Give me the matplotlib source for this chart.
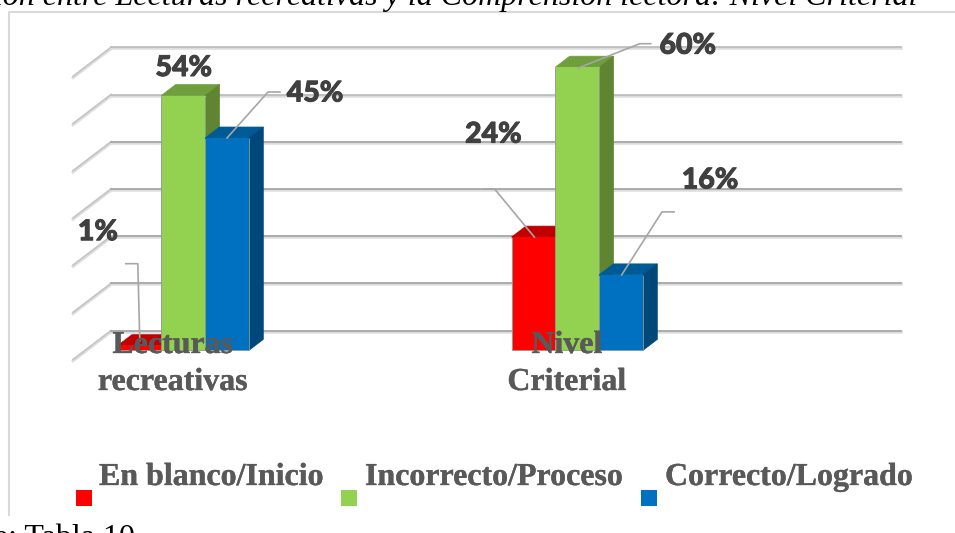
import matplotlib
matplotlib.use("Agg")
import matplotlib.pyplot as plt
import matplotlib.patheffects as pe
from matplotlib.lines import Line2D
from matplotlib.patches import Polygon, Rectangle
from matplotlib.transforms import Affine2D

# --- Data ---
categories = ["Lecturas\nrecreativas", "Nivel\nCriterial"]
series_names = ["En blanco/Inicio", "Incorrecto/Proceso", "Correcto/Logrado"]
blanco = [1, 24]
incorrecto = [54, 60]
correcto = [45, 16]
grid_values = [0, 10, 20, 30, 40, 50, 60]
title = "Relación entre Lecturas recreativas y la Comprensión lectora: Nivel Criterial"
source = "Fuente: Tabla 10"

# --- Colours: front, top, side ---
colors = [("#FF0000", "#C00000", "#A00000"),
          ("#92D250", "#6F9E3C", "#5F8532"),
          ("#0070C0", "#005A96", "#00477A")]
series = [blanco, incorrecto, correcto]

W, H = 955, 533
fig = plt.figure(figsize=(W / 100, H / 100), dpi=100)
ax = fig.add_axes([0, 0, 1, 1])
ax.axis("off")

# pixel scale of the picture: 394 px per category, 4.72 px per percent
ax.set_xlim((0 - 183.2) / 394, (W - 183.2) / 394)
ax.set_ylim((350.4 - H) / 4.72, 350.4 / 4.72)

# top-left pixel coordinates for the chart furniture
px = Affine2D().scale(1, -1).translate(0, H)

bar_w = 43.8 / 394
depth_x = 14.4 / 394
depth_y = 11 / 4.72
back_y = 19.9 / 4.72
grid_left = (111 - 183.2) / 394
grid_right = (900.5 - 183.2) / 394
wall_x = 38 / 394
wall_y = 29 / 4.72

# slight stroke, the reference text is heavier than the plain bold face
heavy = [pe.withStroke(linewidth=0.25, foreground="#595959")]
heavy_num = [pe.withStroke(linewidth=0.7, foreground="#404040")]

# --- Chart frame ---
ax.add_line(Line2D([9, 9, W], [515, 12, 12], transform=px, color="#D9D9D9", lw=1.5, zorder=1))

# --- Gridlines with the side wall ---
for v in grid_values:
    gy = v + back_y
    c = "#BDBDBD" if v >= 50 else "#A6A6A6"
    ax.plot([grid_left - wall_x, grid_left], [gy - wall_y - 0.3, gy - 0.3], color="#DDDDDD", lw=2, zorder=1.5)
    ax.plot([grid_left - wall_x, grid_left], [gy - wall_y, gy], color="#C4C4C4", lw=1.2, zorder=1.6)
    ax.plot([grid_left, grid_right], [gy - 0.25, gy - 0.25], color="#DDDDDD", lw=1.8, zorder=1.7)
    ax.plot([grid_left, grid_right], [gy, gy], color=c, lw=1.3, zorder=1.8)

# --- Bars ---
for i, (vals, (front, top, side)) in enumerate(zip(series, colors)):
    z = 3 + i
    for k, v in enumerate(vals):
        left = k + (i - 1) * bar_w - bar_w / 2
        right = left + bar_w
        ax.add_patch(Polygon([(left, v), (right, v), (right + depth_x, v + depth_y), (left + depth_x, v + depth_y)],
                             facecolor=top, edgecolor=top, lw=0.5, zorder=z))
        ax.add_patch(Polygon([(right, 0), (right + depth_x, depth_y), (right + depth_x, v + depth_y), (right, v)],
                             facecolor=side, edgecolor=side, lw=0.5, zorder=z))
        ax.bar(left + bar_w / 2, v, bar_w, color=front, edgecolor="#8C9A8C", lw=0.6, zorder=z)
        ax.plot([left, right], [v, v], color=front, lw=0.8, zorder=z + 0.1)

# --- Data labels and leader lines, as pixel offsets from the top of each bar ---
# (series, category, label offset, leader points)
label_spec = [
    (0, 0, (-41.5, 113.5), [(0.4, 5), (-1.6, 82), (-13.6, 82)]),
    (1, 0, (0.5, 27.5), None),
    (2, 0, (88, 44.5), [(0, 0), (41, 46), (53, 46)]),
    (0, 1, (-40, 102.5), [(1, 0), (-38.7, 48), (-50, 48)]),
    (1, 1, (110.5, 21.5), [(0.5, -1), (62.5, 23.5), (73.5, 23.5)]),
    (2, 1, (89, 94.5), [(0.7, 0), (41, 63), (53, 63)]),
]
for s, k, off, leader in label_spec:
    v = series[s][k]
    bx = k + (s - 1) * bar_w
    ax.annotate(f"{v}%", xy=(bx, v), xytext=off, textcoords="offset pixels",
                ha="center", va="center", family="Lato", fontweight=900,
                fontsize=20.5, color="#404040", zorder=12, path_effects=heavy_num)
    if leader:
        x0, y0 = ax.transData.transform((bx, v))
        ax.add_line(Line2D([x0 + p[0] for p in leader], [y0 + p[1] for p in leader],
                           transform=None, color="#A6A6A6", lw=1.2, zorder=9))

# --- Category labels ---
cat_x = [173, 567]
for x, cat in zip(cat_x, categories):
    first, second = cat.split("\n")
    for y, line in ((353, first), (390, second)):
        ax.text(x, y, line, transform=px, ha="center", va="baseline", family="Liberation Serif",
                fontweight="bold", fontsize=23, color="#595959", zorder=10, path_effects=heavy)

# --- Legend ---
legend_sq = [76, 341, 641]
legend_tx = [99, 365, 665]
for sq, tx, name, (front, _, _) in zip(legend_sq, legend_tx, series_names, colors):
    ax.add_patch(Rectangle((sq, 490), 16, 16, transform=px, facecolor=front, edgecolor="none", zorder=5))
    ax.text(tx, 485, name, transform=px, ha="left", va="baseline", family="Liberation Serif",
            fontweight="bold", fontsize=23, color="#595959", path_effects=heavy)

# --- Surrounding document text, cut by the crop ---
ax.text(918, 5, title, transform=px, ha="right", va="baseline", family="Liberation Serif",
        style="italic", fontsize=23, color="black")
ax.text(135, 546, source, transform=px, ha="right", va="baseline", family="Liberation Serif",
        fontsize=23, color="black")

fig.savefig("out.png", dpi=100)
